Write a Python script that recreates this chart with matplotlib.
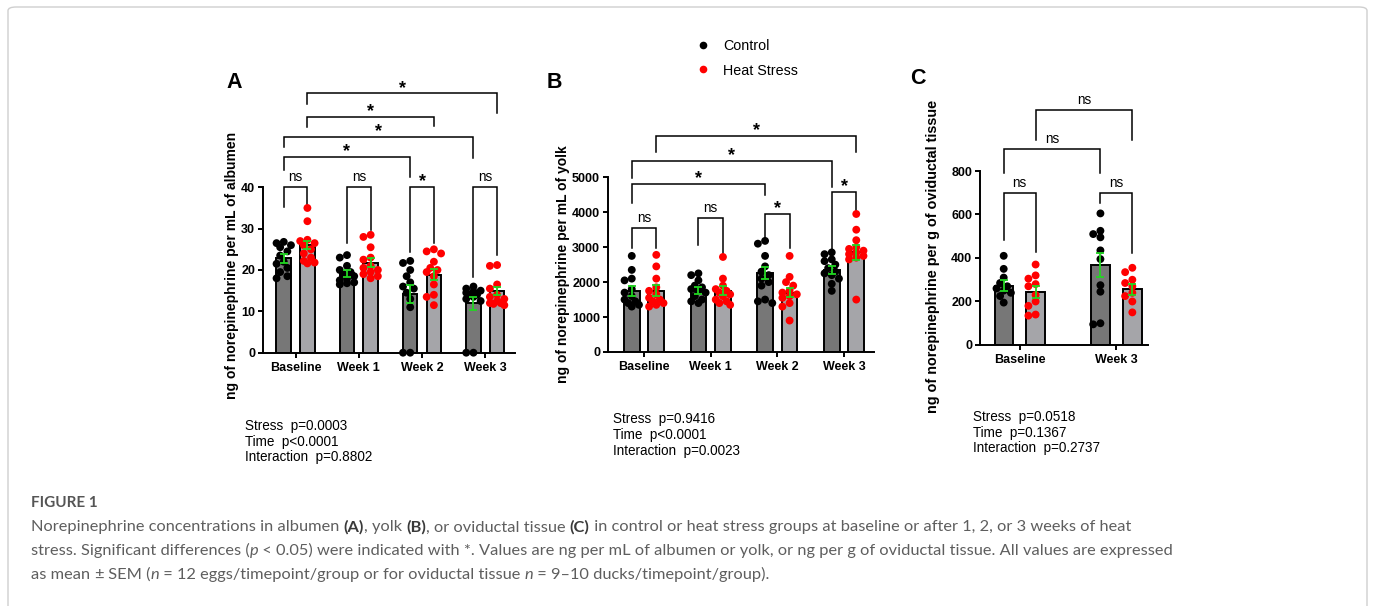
import numpy as np
import matplotlib
matplotlib.use("Agg")
import matplotlib.pyplot as plt
from matplotlib.lines import Line2D
from matplotlib.patches import FancyBboxPatch

W, H = 1375, 606
plt.rcParams['font.family'] = ['Liberation Sans', 'DejaVu Sans']

# ---------------- data ----------------
group_names = ["Control", "Heat Stress"]

# A: albumen, ng/mL
alb_cats = ["Baseline", "Week 1", "Week 2", "Week 3"]
alb_ctrl_mean = [22.8, 19.2, 14.1, 11.9]
alb_ctrl_sem = [1.05, 0.8, 2.2, 1.6]
alb_heat_mean = [26.0, 21.8, 18.9, 15.0]
alb_heat_sem = [1.0, 1.1, 1.3, 1.0]
alb_ctrl_pts = [
    [26.8, 26.5, 26.0, 25.5, 24.5, 23.5, 22.0, 21.5, 20.5, 19.5, 18.5, 18.0],
    [23.6, 23.0, 21.0, 20.0, 19.5, 19.0, 18.5, 18.0, 17.5, 17.0, 16.8, 16.5],
    [22.2, 21.7, 20.0, 18.5, 17.0, 16.0, 15.5, 14.5, 13.0, 11.0, 0.0, 0.0],
    [16.0, 15.5, 15.0, 14.8, 14.5, 14.0, 14.0, 13.5, 13.0, 12.5, 0.0, 0.0],
]
alb_heat_pts = [
    [35.0, 31.8, 27.3, 27.0, 26.5, 26.0, 25.0, 24.0, 23.0, 22.2, 21.8, 21.6],
    [28.5, 28.0, 25.5, 23.0, 22.5, 21.0, 20.5, 20.0, 19.5, 19.0, 18.5, 18.0],
    [25.0, 24.5, 24.0, 22.0, 20.5, 20.0, 19.5, 18.5, 16.5, 14.0, 13.5, 11.5],
    [21.2, 21.0, 16.5, 15.5, 14.0, 13.5, 13.0, 12.5, 12.0, 12.0, 11.8, 11.5],
]
alb_stats = [("Stress", "p=0.0003"), ("Time", "p<0.0001"), ("Interaction", "p=0.8802")]
# (cat1, group1, cat2, group2, bracket height, leg1 end, leg2 end, label)
alb_comps = [
    (0, 0, 0, 1, 40, 35.3, 35.8, "ns"),
    (1, 0, 1, 1, 40, 26.5, 29.7, "ns"),
    (2, 0, 2, 1, 40, 24.4, 26.5, "*"),
    (3, 0, 3, 1, 40, 18.4, 23.6, "ns"),
    (0, 0, 2, 0, 47.3, 44.2, 42.4, "*"),
    (0, 0, 3, 0, 52.1, 49.7, 47.0, "*"),
    (0, 1, 2, 1, 57.1, 54.7, 54.8, "*"),
    (0, 1, 3, 1, 62.7, 60.1, 57.9, "*"),
]

# B: yolk, ng/mL
yolk_cats = ["Baseline", "Week 1", "Week 2", "Week 3"]
yolk_ctrl_mean = [1750, 1760, 2250, 2350]
yolk_ctrl_sem = [145, 95, 170, 120]
yolk_heat_mean = [1760, 1760, 1700, 2850]
yolk_heat_sem = [165, 140, 130, 210]
yolk_ctrl_pts = [
    [2750, 2350, 2100, 2050, 1800, 1700, 1600, 1500, 1450, 1400, 1350, 1300],
    [2250, 2200, 2050, 1900, 1850, 1800, 1750, 1700, 1600, 1500, 1450, 1400],
    [3180, 3100, 2750, 2450, 2300, 2200, 2100, 2000, 1900, 1500, 1450, 1400],
    [2850, 2800, 2650, 2600, 2500, 2400, 2300, 2250, 2200, 2100, 1950, 1750],
]
yolk_heat_pts = [
    [2780, 2450, 2100, 1850, 1750, 1650, 1550, 1500, 1450, 1400, 1350, 1300],
    [2720, 2100, 1900, 1800, 1750, 1700, 1650, 1600, 1500, 1450, 1400, 1350],
    [2750, 2150, 2000, 1900, 1750, 1700, 1650, 1600, 1550, 1400, 1300, 900],
    [3950, 3500, 3200, 3000, 2950, 2900, 2850, 2800, 2750, 2700, 2650, 1500],
]
yolk_stats = [("Stress", "p=0.9416"), ("Time", "p<0.0001"), ("Interaction", "p=0.0023")]
yolk_comps = [
    (0, 0, 0, 1, 3540, 2970, 2970, "ns"),
    (1, 0, 1, 1, 3830, 3060, 2800, "ns"),
    (2, 0, 2, 1, 3950, 3250, 2970, "*"),
    (3, 0, 3, 1, 4590, 2870, 4070, "*"),
    (0, 0, 2, 0, 4800, 4260, 4490, "*"),
    (0, 0, 3, 0, 5470, 4990, 4730, "*"),
    (0, 1, 3, 1, 6180, 5730, 5730, "*"),
]

# C: oviductal tissue, ng/g
ovi_cats = ["Baseline", "Week 3"]
ovi_ctrl_mean = [272, 368]
ovi_ctrl_sem = [25, 57]
ovi_heat_mean = [243, 257]
ovi_heat_sem = [27, 25]
ovi_ctrl_pts = [
    [410, 350, 310, 285, 270, 260, 250, 240, 225, 195],
    [605, 525, 510, 495, 435, 395, 275, 245, 100, 95],
]
ovi_heat_pts = [
    [370, 320, 305, 280, 270, 230, 200, 180, 140, 135],
    [355, 335, 300, 285, 270, 240, 225, 200, 150],
]
ovi_stats = [("Stress", "p=0.0518"), ("Time", "p=0.1367"), ("Interaction", "p=0.2737")]
ovi_comps = [
    (0, 0, 0, 1, 697, 483, 429, "ns"),
    (1, 0, 1, 1, 699, 651, 425, "ns"),
    (0, 0, 1, 0, 900, 789, 789, "ns"),
    (0, 1, 1, 1, 1080, 943, 943, "ns"),
]

caption_title = "FIGURE 1"
caption_lines = [
    [("Norepinephrine concentrations in albumen ", "n"), ("(A)", "b"), (", yolk ", "n"),
     ("(B)", "b"), (", or oviductal tissue ", "n"), ("(C)", "b"),
     (" in control or heat stress groups at baseline or after 1, 2, or 3 weeks of heat", "n")],
    [("stress. Significant differences (", "n"), ("p", "i"),
     (" < 0.05) were indicated with *. Values are ng per mL of albumen or yolk, or ng per g of "
      "oviductal tissue. All values are expressed", "n")],
    [("as mean ", "n"), ("±", "n"), (" SEM (", "n"), ("n", "i"),
     (" = 12 eggs/timepoint/group or for oviductal tissue ", "n"), ("n", "i"),
     (" = 9–10 ducks/timepoint/group).", "n")],
]

# ---------------- styling ----------------
CTRL_FILL = "#777777"
HEAT_FILL = "#a5a5a9"
ERR_GREEN = "#22d622"
CAP_GRAY = "#5e5e5e"


def fx(x):
    return x / W


def fy(y):
    return 1 - y / H


def px_box(l, t, r, b):
    return [l / W, 1 - b / H, (r - l) / W, (b - t) / H]


def swarm(vals, ypx, xpx, d=6.3, step=3.6):
    # spread dots sideways so they don't overlap too much (like Prism scatter)
    vals = np.asarray(vals, float)
    xs = np.zeros(len(vals))
    placed = []
    cands = [0, -1, 1, -2, 2]
    for i in np.argsort(-vals):
        y = vals[i] * ypx
        best, best_d = 0, -1
        for c in cands:
            cx = c * step
            md = min([np.hypot(cx - px, y - py) for px, py in placed] + [99])
            if md >= d:
                best = cx
                break
            if md > best_d:
                best, best_d = cx, md
        placed.append((best, y))
        xs[i] = best / xpx
    return xs


def draw_panel(ax, box, cats, cm, cs, hm, hs, cpts, hpts, ymax, ystep, xlim, off, width, comps):
    ax.set_xlim(*xlim)
    ax.set_ylim(0, ymax)
    x = np.arange(len(cats))
    ax.bar(x - off, cm, width, color=CTRL_FILL, edgecolor="black", linewidth=1.4, zorder=1)
    ax.bar(x + off, hm, width, color=HEAT_FILL, edgecolor="black", linewidth=1.4, zorder=1)

    ypx = (box[3] - box[1]) / ymax
    xpx = (box[2] - box[0]) / (xlim[1] - xlim[0])
    for i in range(len(cats)):
        for pts, sign, col in ((cpts[i], -1, "black"), (hpts[i], 1, "#ff0000")):
            xs = swarm(pts, ypx, xpx)
            ax.scatter(i + sign * off + xs, pts, s=32, color=col, edgecolors="none",
                       zorder=3, clip_on=False)

    ax.errorbar(x - off, cm, yerr=cs, fmt="none", ecolor=ERR_GREEN, elinewidth=1.3,
                capsize=3, capthick=1.3, zorder=4)
    ax.errorbar(x + off, hm, yerr=hs, fmt="none", ecolor=ERR_GREEN, elinewidth=1.3,
                capsize=3, capthick=1.3, zorder=4)

    for c1, g1, c2, g2, top, b1, b2, lab in comps:
        x1 = c1 + (off if g1 else -off)
        x2 = c2 + (off if g2 else -off)
        ax.plot([x1, x1, x2, x2], [b1, top, top, b2], color="black", lw=1.1,
                clip_on=False, solid_joinstyle="miter", zorder=2)
        if lab == "*":
            ax.annotate(lab, xy=((x1 + x2) / 2, top), xytext=(0, 0.6), textcoords="offset points",
                        ha="center", va="baseline", fontsize=13, fontweight="bold",
                        annotation_clip=False)
        else:
            ax.annotate(lab, xy=((x1 + x2) / 2, top), xytext=(0, 4.6), textcoords="offset points",
                        ha="center", va="baseline", fontsize=9.75, annotation_clip=False)

    ax.set_xticks(x)
    ax.set_xticklabels(cats, fontsize=9, fontweight="bold")
    ax.set_yticks(np.arange(0, ymax + ystep / 2, ystep))
    for lab in ax.get_yticklabels():
        lab.set_fontweight("bold")
        lab.set_fontsize(9)
    ax.tick_params(axis="both", length=3.5, width=1.4, direction="out", colors="black", pad=2)
    ax.tick_params(axis="x", pad=3)
    for s in ("top", "right"):
        ax.spines[s].set_visible(False)
    for s in ("left", "bottom"):
        ax.spines[s].set_linewidth(1.4)
    ax.patch.set_alpha(0)


fig = plt.figure(figsize=(W / 100, H / 100), dpi=100)

# frame around the figure block
frame = FancyBboxPatch((fx(8), fy(640)), fx(1367) - fx(8), fy(7) - fy(640),
                       boxstyle="round,pad=0,rounding_size=0.006", transform=fig.transFigure,
                       facecolor="none", edgecolor="#cfcfcf", linewidth=1.0)
fig.patches.append(frame)

boxA = (262.7, 187.3, 515, 352.7)
boxB = (607.7, 177.3, 874, 352)
boxC = (980, 171, 1148.3, 345)

axA = fig.add_axes(px_box(*boxA))
draw_panel(axA, boxA, alb_cats, alb_ctrl_mean, alb_ctrl_sem, alb_heat_mean, alb_heat_sem,
           alb_ctrl_pts, alb_heat_pts, 40, 10, (-0.52, 3.47), 0.187, 0.23, alb_comps)
axB = fig.add_axes(px_box(*boxB))
draw_panel(axB, boxB, yolk_cats, yolk_ctrl_mean, yolk_ctrl_sem, yolk_heat_mean, yolk_heat_sem,
           yolk_ctrl_pts, yolk_heat_pts, 5000, 1000, (-0.545, 3.45), 0.184, 0.235, yolk_comps)
axC = fig.add_axes(px_box(*boxC))
draw_panel(axC, boxC, ovi_cats, ovi_ctrl_mean, ovi_ctrl_sem, ovi_heat_mean, ovi_heat_sem,
           ovi_ctrl_pts, ovi_heat_pts, 800, 200, (-0.41, 1.33), 0.165, 0.19, ovi_comps)

# y labels
ylab_kw = dict(rotation=90, ha="center", va="center", fontweight="bold")
fig.text(fx(232), fy(265), "ng of norepinephrine per mL of albumen", fontsize=10, **ylab_kw)
fig.text(fx(563), fy(264), "ng of norepinephrine per mL of yolk", fontsize=10, **ylab_kw)
fig.text(fx(933), fy(256), "ng of norepinephrine per g of oviductal tissue", fontsize=10.4, **ylab_kw)

# panel letters
for letter, x, yb in (("A", 234, 88), ("B", 554.7, 88), ("C", 917.5, 83.5)):
    fig.text(fx(x), fy(yb), letter, ha="center", va="baseline", fontsize=15.5, fontweight="bold")

# two-way ANOVA results under each panel
for stats, x, y0 in ((alb_stats, 245, 430), (yolk_stats, 613.3, 423.3), (ovi_stats, 973.3, 421)):
    for k, (name, p) in enumerate(stats):
        fig.text(fx(x), fy(y0 + k * 15.7), f"{name}  {p}", ha="left", va="baseline", fontsize=9.75)

# legend
for k, (name, col) in enumerate(zip(group_names, ["black", "#ff0000"])):
    yc = 45 + k * 24.3
    fig.add_artist(Line2D([fx(703.3)], [fy(yc)], marker="o", ls="", ms=5.5, color=col,
                          markeredgewidth=0, transform=fig.transFigure))
    fig.text(fx(723), fy(yc + 5.5), name, ha="left", va="baseline", fontsize=10.3)

# caption
renderer = fig.canvas.get_renderer()


def run_kw(style, size):
    kw = dict(family=["Lato", "DejaVu Sans"], fontsize=size, color=CAP_GRAY)
    if style == "b":
        kw.update(fontweight="bold", color="#3a3a3a")
    elif style == "i":
        kw.update(fontstyle="italic")
    return kw


def text_width(s, kw):
    t1 = fig.text(0, 0, s + "|", **kw)
    t2 = fig.text(0, 0, "|", **kw)
    w = t1.get_window_extent(renderer).width - t2.get_window_extent(renderer).width
    t1.remove()
    t2.remove()
    return w


cap_size = 11.8
fig.text(fx(30.7), fy(506.7), caption_title, ha="left", va="baseline",
         family=["Lato", "DejaVu Sans"], fontsize=11, fontweight="bold", color="#555555")
for k, runs in enumerate(caption_lines):
    xpos = 30.7
    base = 531.5 + k * 23.8
    for s, style in runs:
        kw = run_kw(style, cap_size)
        fig.text(fx(xpos), fy(base), s, ha="left", va="baseline", **kw)
        xpos += text_width(s, kw)

fig.savefig("out.png", dpi=100)
